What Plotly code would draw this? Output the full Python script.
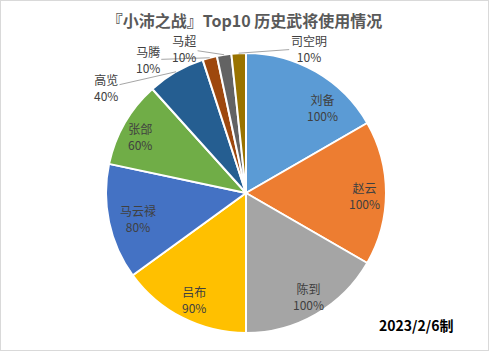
import math
import plotly.graph_objects as go

names = ["刘备", "赵云", "陈到", "吕布", "马云禄", "张郃", "高览", "马腾", "马超", "司空明"]
usage = [100, 100, 100, 90, 80, 60, 40, 10, 10, 10]
colors = ["#5B9BD5", "#ED7D31", "#A5A5A5", "#FFC000", "#4472C4",
          "#70AD47", "#255E91", "#9E480E", "#636363", "#997300"]
outside = ["高览", "马腾", "马超", "司空明"]
# label offsets (px) for outside labels
offsets = {"高览": (-70, 16), "马腾": (-62, 2), "马超": (-40, -6), "司空明": (70, -5)}
# inside label placement: (radius fraction, angle nudge in degrees)
inside_place = {"刘备": (0.82, 12), "赵云": (0.85, 1), "陈到": (0.86, -1),
                "吕布": (0.85, -1), "马云禄": (0.79, -1.5), "张郃": (0.86, -2)}

W, H = 489, 351
cx, cy, R = 246, 193, 140

font = "Noto Sans CJK SC, Noto Sans, sans-serif"
label_font = dict(family=font, size=12, color="#404040")

fig = go.Figure(go.Pie(
    labels=names, values=usage, sort=False, direction="clockwise", rotation=0,
    textinfo="none",
    marker=dict(colors=colors, line=dict(color="white", width=2)),
    domain=dict(x=[(cx - R) / W, (cx + R) / W], y=[(H - cy - R) / H, (H - cy + R) / H]),
    showlegend=False, hoverinfo="label+value",
))

total = sum(usage)
cum = 0
annotations = []
for n, v in zip(names, usage):
    mid_deg = (cum + v / 2) / total * 360
    cum += v
    if n in outside:
        mid = math.radians(mid_deg)
        ex = cx + R * math.sin(mid)
        ey = cy - R * math.cos(mid)
        ax, ay = offsets[n]
        annotations.append(dict(
            x=ex / W, y=1 - ey / H, xref="paper", yref="paper",
            text=f"{n}<br>{v}%", showarrow=True, arrowhead=0, arrowwidth=1,
            arrowcolor="#A6A6A6", ax=ax, ay=ay, font=label_font,
        ))
    else:
        rf, dth = inside_place[n]
        a = math.radians(mid_deg + dth)
        tx = cx + rf * R * math.sin(a)
        ty = cy - rf * R * math.cos(a)
        annotations.append(dict(
            x=tx / W, y=1 - ty / H, xref="paper", yref="paper",
            xanchor="center", yanchor="middle", showarrow=False,
            text=f"{n}<br>{v}%", font=label_font,
        ))

annotations.append(dict(
    x=416 / W, y=1 - 325 / H, xref="paper", yref="paper", showarrow=False,
    xanchor="center", yanchor="middle",
    text="<b>2023/2/6制</b>", font=dict(family=font, size=14, color="#000000"),
))

fig.update_layout(
    width=W, height=H, margin=dict(l=0, r=0, t=0, b=0),
    paper_bgcolor="white", plot_bgcolor="white",
    title=dict(text="<b>『小沛之战』Top10 历史武将使用情况</b>", x=0.5, xanchor="center",
               y=1 - 21 / H, yanchor="middle",
               font=dict(family=font, size=16, color="#595959")),
    annotations=annotations,
    shapes=[dict(type="rect", xref="paper", yref="paper", x0=0, y0=0, x1=1, y1=1,
                 line=dict(color="#D9D9D9", width=2))],
)

fig.write_html("out.html")
